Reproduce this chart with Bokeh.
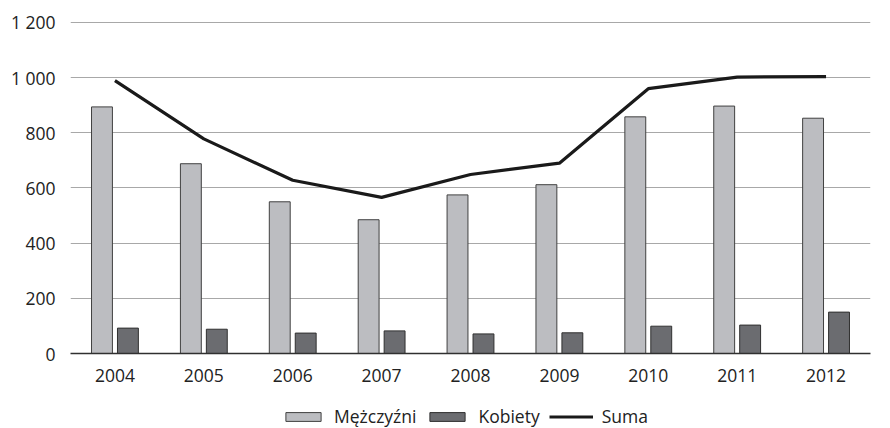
from bokeh.plotting import figure
from bokeh.layouts import column
from bokeh.models import FactorRange, Range1d, Legend, LegendItem, CustomJSTickFormatter, FixedTicker, ColumnDataSource
from bokeh.transform import dodge
from bokeh.embed import file_html
from bokeh.resources import INLINE

years = ["2004", "2005", "2006", "2007", "2008", "2009", "2010", "2011", "2012"]
men = [894, 688, 550, 485, 575, 612, 858, 897, 853]
women = [92, 88, 74, 82, 71, 75, 99, 103, 150]
total = [989, 778, 628, 566, 649, 690, 960, 1002, 1004]
y_ticks = [0, 200, 400, 600, 800, 1000, 1200]

MEN_FILL, MEN_LINE = "#bcbdc1", "#404040"
WOM_FILL, WOM_LINE = "#6b6c70", "#303030"
TOT_LINE = "#1a1a1a"
FONT = "Open Sans"
FS = "17.5px"

src = ColumnDataSource(dict(years=years, men=men, women=women, total=total))

p = figure(x_range=FactorRange(*years), y_range=Range1d(0, 1258),
           width=880, height=386, output_backend="svg", toolbar_location=None,
           min_border_left=70, min_border_right=10, min_border_top=6, min_border_bottom=33)
p.outline_line_color = None

p.vbar(x=dodge("years", -0.146, range=p.x_range), top="men", width=0.235, source=src,
       fill_color=MEN_FILL, line_color=MEN_LINE, line_width=1)
p.vbar(x=dodge("years", 0.146, range=p.x_range), top="women", width=0.235, source=src,
       fill_color=WOM_FILL, line_color=WOM_LINE, line_width=1)
p.line(x="years", y="total", source=src, line_color=TOT_LINE, line_width=3.2)

p.xgrid.grid_line_color = None
p.ygrid.grid_line_color = "#a8a8a8"
p.ygrid.grid_line_width = 1

p.yaxis.ticker = FixedTicker(ticks=y_ticks)
p.yaxis.formatter = CustomJSTickFormatter(code="return tick.toString().replace(/\\B(?=(\\d{3})+(?!\\d))/g, ' ');")
p.yaxis.axis_line_color = None
p.yaxis.major_tick_line_color = None
p.yaxis.minor_tick_line_color = None
p.yaxis.major_tick_out = 0
p.yaxis.major_tick_in = 0
p.yaxis.major_label_standoff = 15

p.xaxis.axis_line_color = "#303030"
p.xaxis.axis_line_width = 1.5
p.xaxis.major_tick_line_color = None
p.xaxis.minor_tick_line_color = None
p.xaxis.major_label_standoff = 9

for ax in (p.xaxis, p.yaxis):
    ax.major_label_text_font = FONT
    ax.major_label_text_font_size = FS
    ax.major_label_text_color = "#222222"

# legend strip below the chart (swatch renderers sit outside the visible range)
lf = figure(width=880, height=42, output_backend="svg", toolbar_location=None,
            x_range=Range1d(0, 1), y_range=Range1d(0, 1),
            x_axis_location=None, y_axis_location=None,
            min_border=0)
lf.outline_line_color = None
lf.grid.grid_line_color = None
swatch = ColumnDataSource(dict(x=[-5], y=[-5], top=[-4]))
lm = lf.vbar(x="x", top="top", bottom="y", width=0.1, source=swatch, fill_color=MEN_FILL, line_color=MEN_LINE)
lw = lf.vbar(x="x", top="top", bottom="y", width=0.1, source=swatch, fill_color=WOM_FILL, line_color=WOM_LINE)
lt = lf.line(x="x", y="y", source=swatch, line_color=TOT_LINE, line_width=3.2)

legend = Legend(items=[LegendItem(label="Mężczyźni", renderers=[lm]),
                       LegendItem(label="Kobiety", renderers=[lw]),
                       LegendItem(label="Suma", renderers=[lt])],
                orientation="horizontal", location=(211, 0),
                label_text_font=FONT, label_text_font_size=FS,
                label_text_color="#222222", glyph_width=44, glyph_height=11,
                spacing=9, label_standoff=9, border_line_color=None,
                background_fill_alpha=0, padding=0, margin=0)
lf.add_layout(legend, "center")

layout = column(p, lf, spacing=0)
open("out.html", "w").write(file_html(layout, INLINE))
